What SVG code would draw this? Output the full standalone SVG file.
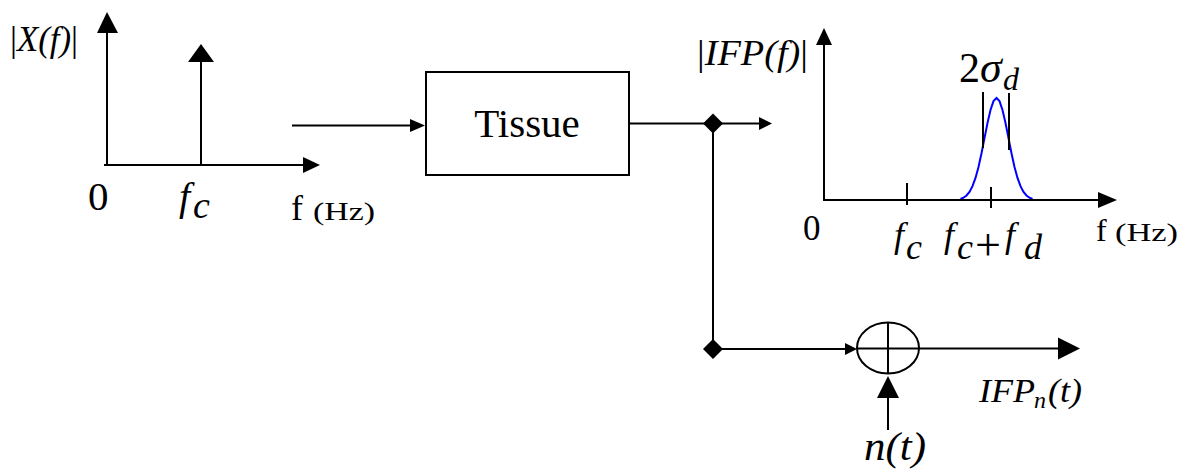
<svg xmlns="http://www.w3.org/2000/svg" width="1185" height="470" viewBox="0 0 1185 470">
<style>
.ln{stroke:#000;stroke-width:2;fill:none}
.ah{fill:#000;stroke:none}
.t{font-family:"Liberation Serif","Times New Roman",serif;fill:#000}
.i{font-style:italic}
</style>
<rect width="1185" height="470" fill="#fff"/>
<g id="plot-input">
  <line class="ln" x1="107" y1="165" x2="107" y2="32"/>
  <polygon class="ah" points="107,12 97,33 118,33"/>
  <line class="ln" x1="104" y1="165" x2="304" y2="165"/>
  <polygon class="ah" points="320,165 303,157 303,173"/>
  <line class="ln" x1="201" y1="165" x2="201" y2="61"/>
  <polygon class="ah" points="201,44 188,62 214,62"/>
  <text class="t" x="10" y="51" font-size="35" textLength="68" lengthAdjust="spacingAndGlyphs"><tspan>|</tspan><tspan class="i">X(f)</tspan><tspan>|</tspan></text>
  <text class="t" x="88" y="210" font-size="41">0</text>
  <text class="t i" x="179" y="210" font-size="40">f</text>
  <text class="t i" x="193" y="218" font-size="38">c</text>
  <text class="t" x="291" y="220" font-size="36">f</text>
  <text class="t" x="313" y="220" font-size="26" textLength="62" lengthAdjust="spacingAndGlyphs">(Hz)</text>
</g>
<g id="tissue">
  <rect x="426" y="72" width="203" height="103" fill="#fff" stroke="#000" stroke-width="2"/>
  <text class="t" x="527" y="137" font-size="41" text-anchor="middle">Tissue</text>
</g>
<g id="plot-output">
  <path d="M960.5,199 L963.5,197.7 L966.5,195.5 L969.5,191.9 L972.5,186.2 L975.5,177.9 L978.5,166.9 L981.5,153.3 L984.5,138.1 L987.5,123 L990.5,110 L993.5,101.1 L996.5,98 L999.5,101.1 L1002.5,110 L1005.5,123 L1008.5,138.1 L1011.5,153.3 L1014.5,166.9 L1017.5,177.9 L1020.5,186.2 L1023.5,191.9 L1026.5,195.5 L1029.5,197.7 L1032.5,199" fill="none" stroke="#0000ff" stroke-width="2"/>
  <line class="ln" x1="824" y1="201" x2="824" y2="44"/>
  <polygon class="ah" points="824,28 816,45 832,45"/>
  <line class="ln" x1="823" y1="200" x2="1099" y2="200"/>
  <polygon class="ah" points="1117,200 1098,192 1098,208"/>
  <line class="ln" x1="907" y1="183" x2="907" y2="205"/>
  <line class="ln" x1="991" y1="187" x2="991" y2="208"/>
  <line class="ln" x1="983" y1="92" x2="983" y2="148" stroke-width="2.5"/>
  <line class="ln" x1="1009" y1="93" x2="1009" y2="150" stroke-width="2.5"/>
  <text class="t" x="697" y="65" font-size="36" textLength="111" lengthAdjust="spacingAndGlyphs"><tspan>|</tspan><tspan class="i">IFP(f)</tspan><tspan>|</tspan></text>
  <text class="t" x="959" y="82" font-size="42">2</text>
  <text class="t i" x="980" y="82" font-size="44">σ</text>
  <text class="t i" x="1003" y="90" font-size="32">d</text>
  <text class="t" x="803" y="240" font-size="35">0</text>
  <text class="t i" x="894" y="247" font-size="36">f</text>
  <text class="t i" x="906" y="259" font-size="36">c</text>
  <text class="t i" x="944" y="247" font-size="36">f</text>
  <text class="t i" x="957" y="259" font-size="36">c</text>
  <text class="t" x="975" y="260" font-size="46">+</text>
  <text class="t i" x="1005" y="247" font-size="36">f</text>
  <text class="t i" x="1024" y="259" font-size="36">d</text>
  <text class="t" x="1096" y="241" font-size="32">f</text>
  <text class="t" x="1115" y="241" font-size="25" textLength="63" lengthAdjust="spacingAndGlyphs">(Hz)</text>
</g>
<g id="junction-top">
  <polygon class="ah" points="713,113.5 723,123.5 713,133.5 703,123.5"/>
</g>
<g id="junction-bottom">
  <polygon class="ah" points="713,339 723,349 713,359 703,349"/>
</g>
<g id="summer">
  <ellipse cx="888" cy="348" rx="31" ry="25.5" fill="none" stroke="#000" stroke-width="2"/>
  <line class="ln" x1="888" y1="322.5" x2="888" y2="373.5"/>
  <line class="ln" x1="857" y1="348.5" x2="919" y2="348.5"/>
</g>
<g id="labels">
  <text class="t i" x="979" y="402" font-size="33" textLength="56" lengthAdjust="spacingAndGlyphs">IFP</text>
  <text class="t i" x="1034" y="408" font-size="24">n</text>
  <text class="t i" x="1048" y="402" font-size="33" textLength="34" lengthAdjust="spacingAndGlyphs">(t)</text>
  <text class="t i" x="864" y="460" font-size="39" textLength="62" lengthAdjust="spacingAndGlyphs">n(t)</text>
</g>
<g id="connectors">
  <line class="ln" x1="292" y1="125.5" x2="412" y2="125.5"/>
  <polygon class="ah" points="425,125.5 410,119 410,132"/>
  <line class="ln" x1="629" y1="123.5" x2="760" y2="123.5"/>
  <polygon class="ah" points="772,123.5 759,117 759,130"/>
  <line class="ln" x1="713" y1="123.5" x2="713" y2="349"/>
  <line class="ln" x1="713" y1="349" x2="846" y2="349"/>
  <polygon class="ah" points="857,349 845,343 845,355"/>
  <line class="ln" x1="919" y1="348.5" x2="1060" y2="348.5"/>
  <polygon class="ah" points="1080,348.5 1058,337.5 1058,359.5"/>
  <line class="ln" x1="888" y1="430" x2="888" y2="396"/>
  <polygon class="ah" points="888,376 877,398 899,398"/>
</g>
</svg>
